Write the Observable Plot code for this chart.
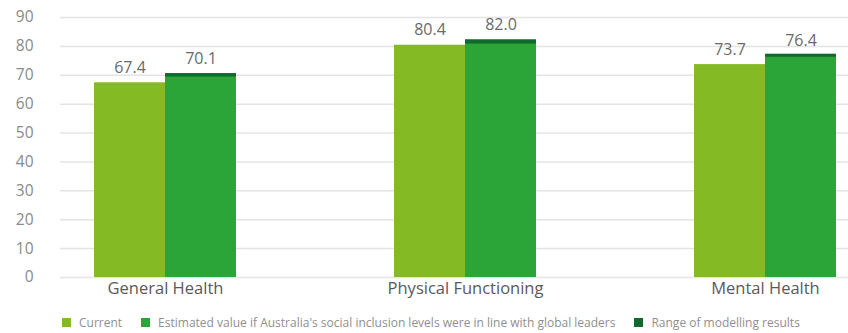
<!DOCTYPE html>
<html>
<head>
<meta charset="utf-8">
<script src="https://cdn.jsdelivr.net/npm/d3@7"></script>
<script src="https://cdn.jsdelivr.net/npm/@observablehq/plot@0.6"></script>
<style>
  html, body { margin: 0; padding: 0; background: #fff; }
  body { width: 848px; height: 333px; overflow: hidden; font-family: "Open Sans", sans-serif; }
  #legend { display: flex; align-items: center; margin-left: 62px; margin-top: 9px; font-size: 12px; color: #8f8f8f; white-space: nowrap; }
  #legend .item { display: flex; align-items: center; margin-right: 19px; }
  #legend .sw { width: 9px; height: 9px; margin-right: 8px; }
</style>
</head>
<body>
<div id="chart"></div>
<div id="legend"></div>
<script>
const categories = ["General Health", "Physical Functioning", "Mental Health"];
const current = [67.4, 80.4, 73.7];
const estimated = [70.1, 82.0, 76.4];
const rangeLow = [69.4, 80.8, 76.2];
const rangeHigh = [70.6, 82.3, 77.3];
const yTicks = [0, 10, 20, 30, 40, 50, 60, 70, 80, 90];
const legendLabels = [
  "Current",
  "Estimated value if Australia's social inclusion levels were in line with global leaders",
  "Range of modelling results"
];
const colors = ["#84bb24", "#2ba538", "#0f6a2e"];

const data = categories.map((c, i) => ({
  category: c,
  current: current[i],
  estimated: estimated[i],
  lo: rangeLow[i],
  hi: rangeHigh[i]
}));

const half = 71;
const chart = Plot.plot({
  width: 848,
  height: 305,
  marginTop: 17,
  marginBottom: 28,
  marginLeft: 60,
  marginRight: 0,
  style: { fontFamily: "Open Sans, sans-serif", background: "#fff" },
  x: { type: "band", domain: categories, range: [93, 837], paddingInner: 0.528, paddingOuter: 0, label: null },
  y: { domain: [0, 90], label: null },
  marks: [
    Plot.ruleY(yTicks, { stroke: "#e4e4e4", strokeWidth: 1.5 }),
    Plot.axisY(yTicks, { tickSize: 0, tickPadding: 27, fontSize: 15.5, fill: "#8a8a8a", label: null }),
    Plot.axisX({ tickSize: 0, tickPadding: 5, fontSize: 16.5, fill: "#5a5a5a", label: null }),
    Plot.barY(data, { x: "category", y: "current", fill: colors[0], insetRight: half }),
    Plot.barY(data, { x: "category", y: "estimated", fill: colors[1], insetLeft: half }),
    Plot.barY(data, { x: "category", y1: "lo", y2: "hi", fill: colors[2], insetLeft: half }),
    Plot.rectY(data, { x: "category", y1: "lo", y2: "lo", stroke: "#6dbb72", strokeWidth: 1, insetLeft: half }),
    Plot.text(data, { x: "category", y: "current", text: d => d.current.toFixed(1), dx: -half / 2, dy: -15, fontSize: 16, fill: "#6a6a6a" }),
    Plot.text(data, { x: "category", y: "estimated", text: d => d.estimated.toFixed(1), dx: half / 2, dy: -16, fontSize: 16, fill: "#6a6a6a" })
  ]
});
document.getElementById("chart").appendChild(chart);

const legend = d3.select("#legend");
legendLabels.forEach((l, i) => {
  const item = legend.append("div").attr("class", "item");
  item.append("div").attr("class", "sw").style("background", colors[i]);
  item.append("span").text(l);
});
</script>
</body>
</html>
